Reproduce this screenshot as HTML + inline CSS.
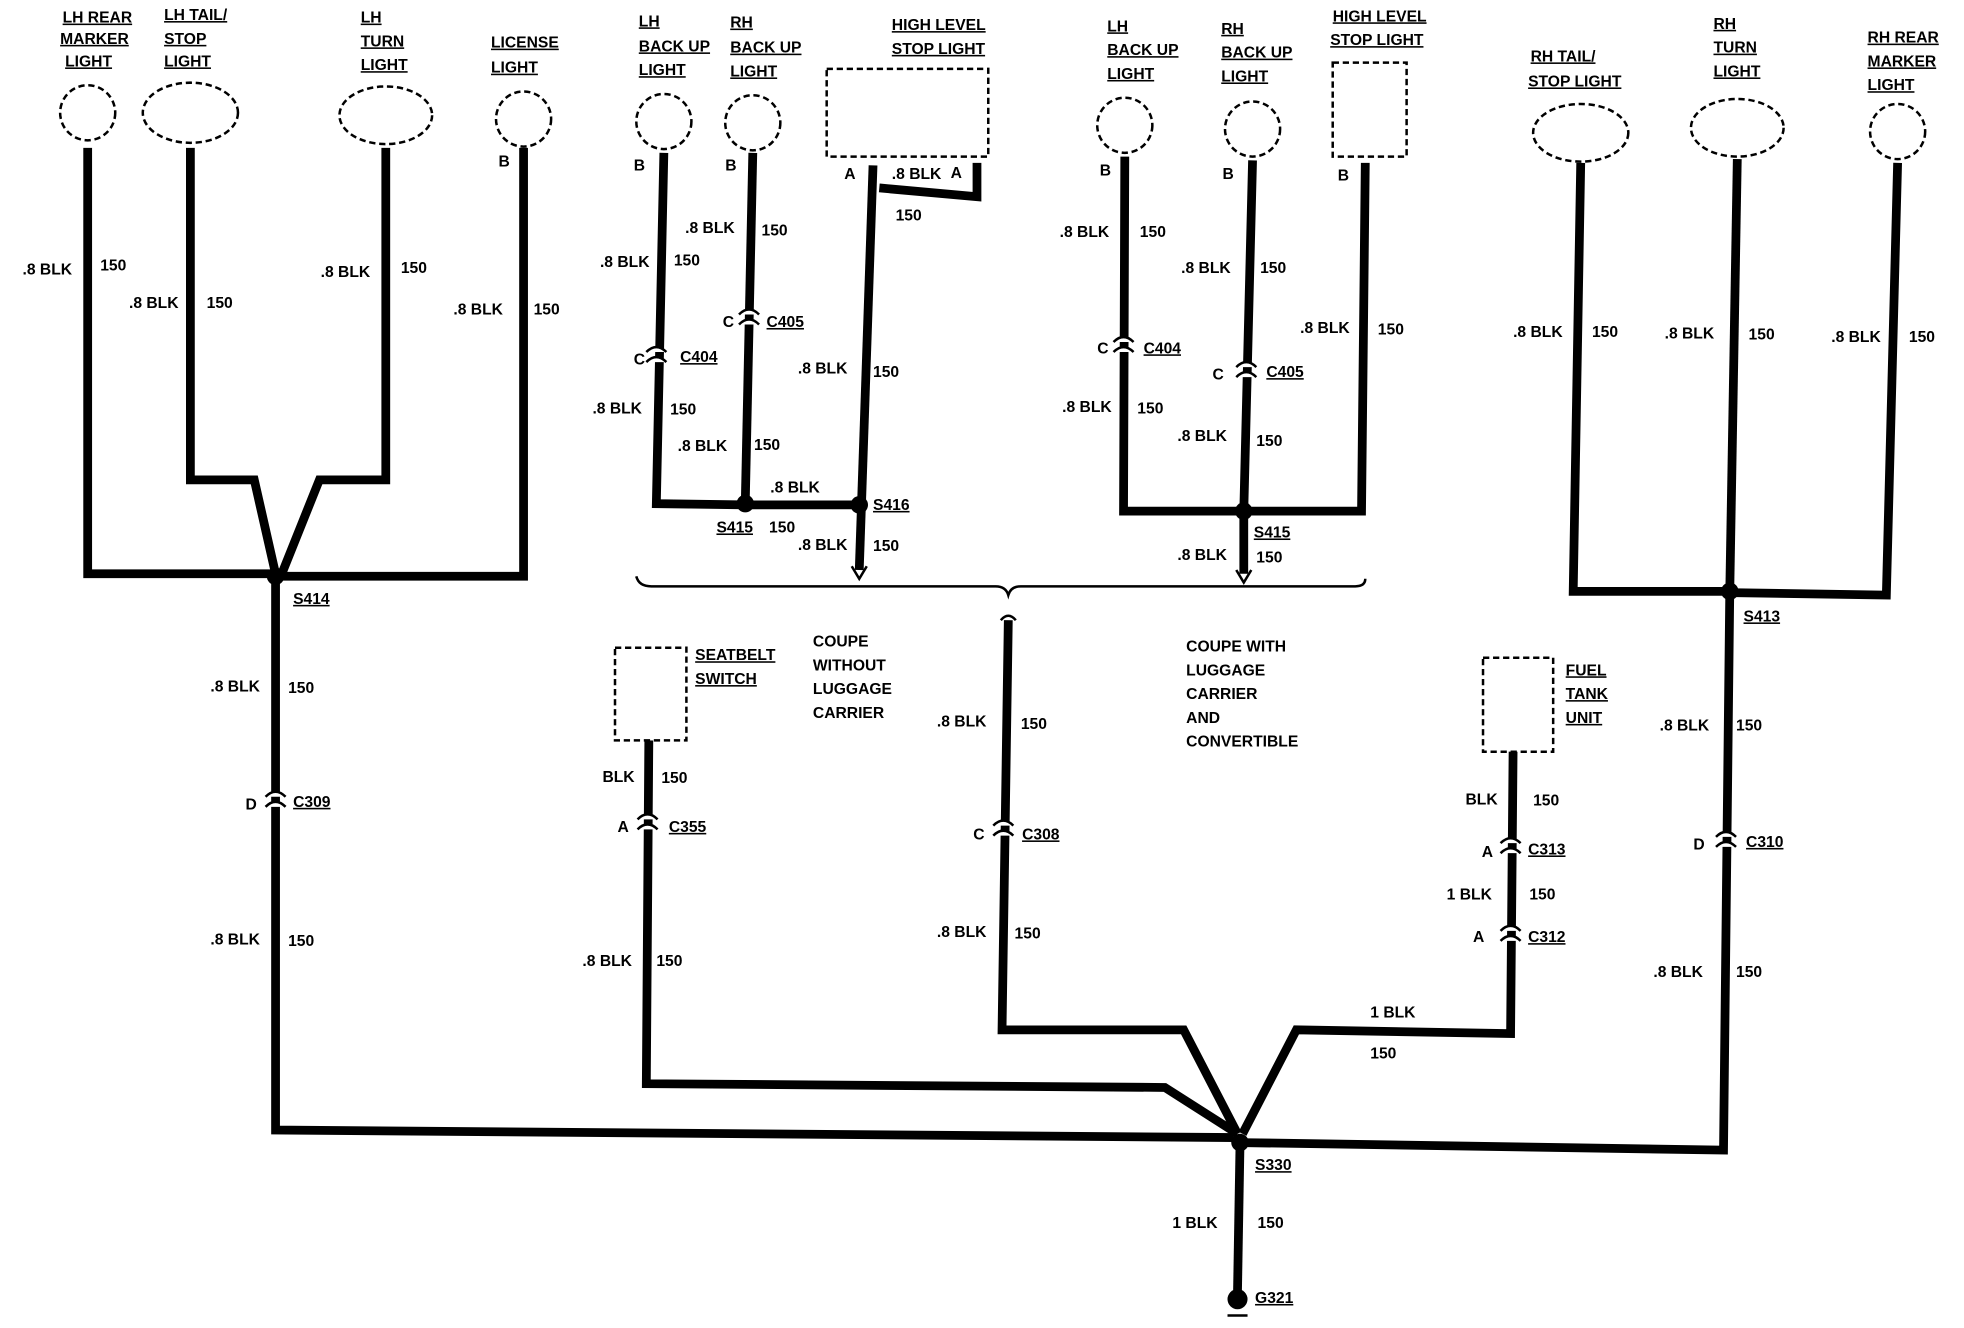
<!DOCTYPE html>
<html><head><meta charset="utf-8"><style>
html,body{margin:0;padding:0;background:#fff;width:1964px;height:1328px;overflow:hidden}
svg{display:block}
text{font-family:"Liberation Sans",sans-serif;font-size:12.5px;font-weight:bold;fill:#000}
.u{text-decoration:underline}
</style></head><body>
<svg width="1964" height="1328" viewBox="0 0 1568 1060" preserveAspectRatio="none" xmlns="http://www.w3.org/2000/svg">
<g fill="none" stroke="#000" stroke-width="2" stroke-dasharray="5,3">
<circle cx="70" cy="90" r="22"/>
<ellipse cx="152" cy="90" rx="38" ry="24"/>
<ellipse cx="308" cy="92" rx="37" ry="23"/>
<circle cx="418" cy="95" r="22"/>
<circle cx="530" cy="97" r="22"/>
<circle cx="601" cy="98" r="22"/>
<rect x="660" y="55" width="129" height="70"/>
<circle cx="898" cy="100" r="22"/>
<circle cx="1000" cy="103" r="22"/>
<rect x="1064" y="50" width="59" height="75"/>
<ellipse cx="1262" cy="106" rx="38" ry="23"/>
<ellipse cx="1387" cy="102" rx="37" ry="23"/>
<circle cx="1515" cy="105" r="22"/>
<rect x="491" y="517" width="57" height="74"/>
<rect x="1184" y="525" width="56" height="75"/>
</g>
<g fill="none" stroke="#000" stroke-width="7" stroke-linejoin="miter">
<polyline points="70,118 70,458 220,458"/>
<polyline points="152,118 152,383 203,383 220,458"/>
<polyline points="308,118 308,383 255,383 225,458"/>
<polyline points="418,118 418,460 220,460"/>
<polyline points="220,460 220,902 985,908"/>
<polyline points="530,122 524,402 595,403 686,403"/>
<polyline points="601,122 595,401"/>
<polyline points="697,132 686,455"/>
<polyline points="702,150 780,157 780,130"/>
<polyline points="805,495 800,822 945,822 988,905"/>
<polyline points="898,125 897,408 1087,408 1090,130"/>
<polyline points="1000,128 993,408 993,458"/>
<polyline points="1262,130 1256,472 1381,472"/>
<polyline points="1387,127 1381,472"/>
<polyline points="1515,130 1506,475 1381,473"/>
<polyline points="1381,472 1376,918 990,912"/>
<polyline points="518,591 516,865 930,868 988,905"/>
<polyline points="1208,600 1206,825 1035,822 992,905"/>
<polyline points="990,912 988,1030"/>
</g>
<g fill="none" stroke="#000" stroke-width="2">
<path d="M508,460 Q510,468 520,468 L795,468 Q803,468 805,475 Q807,468 815,468 L1082,468 Q1090,468 1090,462"/>
<path d="M680,452 L686,462 L692,452"/><path d="M987,455 L993,465 L999,455"/>
<path d="M799,495 Q805,488 811,495"/>
<line x1="980" y1="1050" x2="996" y2="1050"/>
</g>
<g fill="#000">
<circle cx="220" cy="460" r="7"/><circle cx="595" cy="402" r="7"/><circle cx="686" cy="403" r="7"/>
<circle cx="993" cy="408" r="7"/><circle cx="1381" cy="472" r="7"/><circle cx="990" cy="912" r="7"/>
<circle cx="988" cy="1037" r="8"/>
</g>
<g fill="#fff" stroke="#000" stroke-width="2">
<path d="M212,636 Q220,628 228,636 M212,644 Q220,636 228,644"/>
<path d="M516,281 Q524,273 532,281 M516,289 Q524,281 532,289"/>
<path d="M590,251 Q598,243 606,251 M590,259 Q598,251 606,259"/>
<path d="M889,273 Q897,265 905,273 M889,281 Q897,273 905,281"/>
<path d="M987,293 Q995,285 1003,293 M987,301 Q995,293 1003,301"/>
<path d="M509,654 Q517,646 525,654 M509,662 Q517,654 525,662"/>
<path d="M793,659 Q801,651 809,659 M793,667 Q801,659 809,667"/>
<path d="M1198,673 Q1206,665 1214,673 M1198,681 Q1206,673 1214,681"/>
<path d="M1198,743 Q1206,735 1214,743 M1198,751 Q1206,743 1214,751"/>
<path d="M1370,668 Q1378,660 1386,668 M1370,676 Q1378,668 1386,676"/>
</g>
<!-- component labels -->
<text class="u" x="50" y="18">LH REAR</text><text class="u" x="48" y="35">MARKER</text><text class="u" x="52" y="53">LIGHT</text>
<text class="u" x="131" y="16">LH TAIL/</text><text class="u" x="131" y="35">STOP</text><text class="u" x="131" y="53">LIGHT</text>
<text class="u" x="288" y="18">LH</text><text class="u" x="288" y="37">TURN</text><text class="u" x="288" y="56">LIGHT</text>
<text class="u" x="392" y="38">LICENSE</text><text class="u" x="392" y="58">LIGHT</text>
<text class="u" x="510" y="21">LH</text><text class="u" x="510" y="41">BACK UP</text><text class="u" x="510" y="60">LIGHT</text>
<text class="u" x="583" y="22">RH</text><text class="u" x="583" y="42">BACK UP</text><text class="u" x="583" y="61">LIGHT</text>
<text class="u" x="712" y="24">HIGH LEVEL</text><text class="u" x="712" y="43">STOP LIGHT</text>
<text class="u" x="884" y="25">LH</text><text class="u" x="884" y="44">BACK UP</text><text class="u" x="884" y="63">LIGHT</text>
<text class="u" x="975" y="27">RH</text><text class="u" x="975" y="46">BACK UP</text><text class="u" x="975" y="65">LIGHT</text>
<text class="u" x="1064" y="17">HIGH LEVEL</text><text class="u" x="1062" y="36">STOP LIGHT</text>
<text class="u" x="1222" y="49">RH TAIL/</text><text class="u" x="1220" y="69">STOP LIGHT</text>
<text class="u" x="1368" y="23">RH</text><text class="u" x="1368" y="42">TURN</text><text class="u" x="1368" y="61">LIGHT</text>
<text class="u" x="1491" y="34">RH REAR</text><text class="u" x="1491" y="53">MARKER</text><text class="u" x="1491" y="72">LIGHT</text>
<text class="u" x="555" y="527">SEATBELT</text><text class="u" x="555" y="546">SWITCH</text>
<text x="649" y="516">COUPE</text><text x="649" y="535">WITHOUT</text><text x="649" y="554">LUGGAGE</text><text x="649" y="573">CARRIER</text>
<text x="947" y="520">COUPE WITH</text><text x="947" y="539">LUGGAGE</text><text x="947" y="558">CARRIER</text><text x="947" y="577">AND</text><text x="947" y="596">CONVERTIBLE</text>
<text class="u" x="1250" y="539">FUEL</text><text class="u" x="1250" y="558">TANK</text><text class="u" x="1250" y="577">UNIT</text>
<!-- pins -->
<text x="398" y="133">B</text><text x="506" y="136">B</text><text x="579" y="136">B</text><text x="674" y="143">A</text><text x="759" y="142">A</text>
<text x="878" y="140">B</text><text x="976" y="143">B</text><text x="1068" y="144">B</text>
<!-- splice / connector names -->
<text class="u" x="234" y="482">S414</text><text class="u" x="234" y="644">C309</text><text x="196" y="646">D</text>
<text class="u" x="543" y="289">C404</text><text x="506" y="291">C</text>
<text class="u" x="612" y="261">C405</text><text x="577" y="261">C</text>
<text class="u" x="572" y="425">S415</text><text class="u" x="697" y="407">S416</text>
<text class="u" x="913" y="282">C404</text><text x="876" y="282">C</text>
<text class="u" x="1011" y="301">C405</text><text x="968" y="303">C</text>
<text class="u" x="1001" y="429">S415</text>
<text class="u" x="1392" y="496">S413</text><text class="u" x="1394" y="676">C310</text><text x="1352" y="678">D</text>
<text class="u" x="534" y="664">C355</text><text x="493" y="664">A</text>
<text class="u" x="816" y="670">C308</text><text x="777" y="670">C</text>
<text class="u" x="1220" y="682">C313</text><text x="1183" y="684">A</text>
<text class="u" x="1220" y="752">C312</text><text x="1176" y="752">A</text>
<text class="u" x="1002" y="934">S330</text><text class="u" x="1002" y="1040">G321</text>
<!-- wire labels -->
<text x="18" y="219">.8 BLK</text><text x="80" y="216">150</text>
<text x="103" y="246">.8 BLK</text><text x="165" y="246">150</text>
<text x="256" y="221">.8 BLK</text><text x="320" y="218">150</text>
<text x="362" y="251">.8 BLK</text><text x="426" y="251">150</text>
<text x="168" y="552">.8 BLK</text><text x="230" y="553">150</text>
<text x="168" y="754">.8 BLK</text><text x="230" y="755">150</text>
<text x="479" y="213">.8 BLK</text><text x="538" y="212">150</text>
<text x="547" y="186">.8 BLK</text><text x="608" y="188">150</text>
<text x="473" y="330">.8 BLK</text><text x="535" y="331">150</text>
<text x="541" y="360">.8 BLK</text><text x="602" y="359">150</text>
<text x="712" y="143">.8 BLK</text><text x="715" y="176">150</text>
<text x="637" y="298">.8 BLK</text><text x="697" y="301">150</text>
<text x="615" y="393">.8 BLK</text><text x="614" y="425">150</text>
<text x="637" y="439">.8 BLK</text><text x="697" y="440">150</text>
<text x="846" y="189">.8 BLK</text><text x="910" y="189">150</text>
<text x="943" y="218">.8 BLK</text><text x="1006" y="218">150</text>
<text x="1038" y="266">.8 BLK</text><text x="1100" y="267">150</text>
<text x="848" y="329">.8 BLK</text><text x="908" y="330">150</text>
<text x="940" y="352">.8 BLK</text><text x="1003" y="356">150</text>
<text x="940" y="447">.8 BLK</text><text x="1003" y="449">150</text>
<text x="1208" y="269">.8 BLK</text><text x="1271" y="269">150</text>
<text x="1329" y="270">.8 BLK</text><text x="1396" y="271">150</text>
<text x="1462" y="273">.8 BLK</text><text x="1524" y="273">150</text>
<text x="481" y="624">BLK</text><text x="528" y="625">150</text>
<text x="748" y="580">.8 BLK</text><text x="815" y="582">150</text>
<text x="748" y="748">.8 BLK</text><text x="810" y="749">150</text>
<text x="465" y="771">.8 BLK</text><text x="524" y="771">150</text>
<text x="1170" y="642">BLK</text><text x="1224" y="643">150</text>
<text x="1155" y="718">1 BLK</text><text x="1221" y="718">150</text>
<text x="1094" y="812">1 BLK</text><text x="1094" y="845">150</text>
<text x="1325" y="583">.8 BLK</text><text x="1386" y="583">150</text>
<text x="1320" y="780">.8 BLK</text><text x="1386" y="780">150</text>
<text x="936" y="980">1 BLK</text><text x="1004" y="980">150</text>
</svg>
</body></html>
